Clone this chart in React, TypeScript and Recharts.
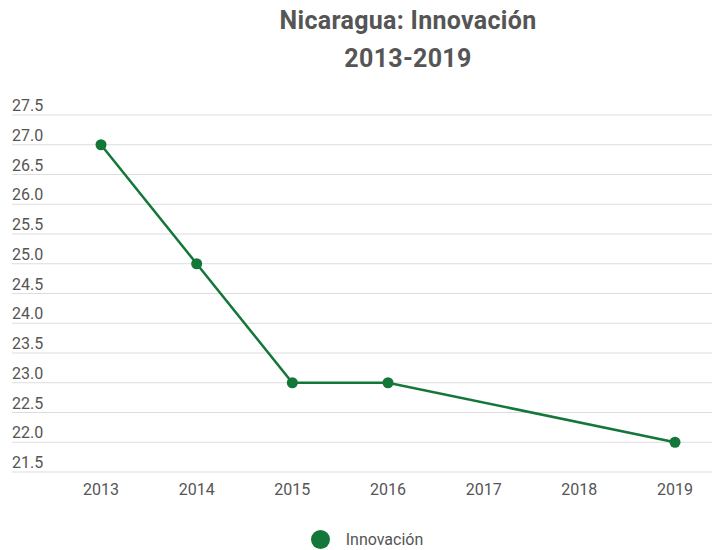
import { CartesianGrid, Legend, Line, LineChart, XAxis, YAxis } from "recharts";

const years = ["2013", "2014", "2015", "2016", "2017", "2018", "2019"];
const innovacion: (number | null)[] = [27, 25, 23, 23, null, null, 22];
const yTicks = [21.5, 22, 22.5, 23, 23.5, 24, 24.5, 25, 25.5, 26, 26.5, 27, 27.5];

const data = years.map((year, i) => ({ year, innovacion: innovacion[i] }));

const GREEN = "#13773a";
const TEXT = "#555555";
const FONT = "Roboto, 'Noto Sans', sans-serif";

const YTick = (props: any) => {
  const { y, payload } = props;
  return (
    <text x={12} y={y - 4} fill={TEXT} fontSize={16} fontFamily={FONT} textAnchor="start">
      {Number(payload.value).toFixed(1)}
    </text>
  );
};

const LegendContent = () => (
  <div
    style={{
      display: "flex",
      alignItems: "center",
      justifyContent: "center",
      fontFamily: FONT,
      fontSize: 16,
      color: TEXT,
      paddingLeft: 22,
    }}
  >
    <span
      style={{
        width: 19,
        height: 19,
        borderRadius: "50%",
        background: GREEN,
        display: "inline-block",
        marginRight: 16,
      }}
    />
    Innovación
  </div>
);

export default function App() {
  return (
    <div style={{ position: "absolute", left: 0, top: 0, width: 712, height: 550, background: "#fff" }}>
      <div
        style={{
          position: "absolute",
          left: 104,
          width: 608,
          top: 2,
          textAlign: "center",
          fontFamily: FONT,
          fontWeight: 700,
          fontSize: 25,
          letterSpacing: 0.3,
          lineHeight: "38px",
          color: TEXT,
        }}
      >
        Nicaragua: Innovación
        <br />
        2013-2019
      </div>
      <LineChart
        width={712}
        height={550}
        data={data}
        margin={{ top: 115, left: 2, right: 0, bottom: 29 }}
      >
        <CartesianGrid horizontal vertical={false} stroke="#dddddd" strokeWidth={1} />
        <XAxis
          dataKey="year"
          axisLine={false}
          tickLine={false}
          height={30}
          tickMargin={6}
          padding={{ left: 89, right: 37 }}
          tick={{ fill: TEXT, fontSize: 16, fontFamily: FONT }}
        />
        <YAxis
          width={10}
          domain={[21.5, 27.5]}
          ticks={yTicks}
          axisLine={false}
          tickLine={false}
          tick={YTick}
          interval={0}
        />
        <Legend
          verticalAlign="bottom"
          content={<LegendContent />}
          wrapperStyle={{ position: "absolute", left: 0, width: 712, top: 530, bottom: "auto" }}
        />
        <Line
          type="linear"
          dataKey="innovacion"
          name="Innovación"
          stroke={GREEN}
          strokeWidth={2.5}
          connectNulls
          dot={{ r: 5.5, fill: GREEN, stroke: GREEN, strokeWidth: 0 }}
          activeDot={false}
          isAnimationActive={false}
        />
      </LineChart>
    </div>
  );
}
